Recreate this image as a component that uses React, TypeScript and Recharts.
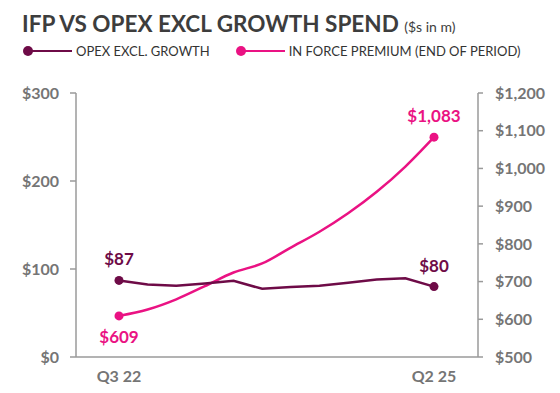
import { LabelList, Line, LineChart, XAxis, YAxis } from "recharts";

const quarters = [
  "Q3 22", "Q4 22", "Q1 23", "Q2 23", "Q3 23", "Q4 23",
  "Q1 24", "Q2 24", "Q3 24", "Q4 24", "Q1 25", "Q2 25",
];
const opexExclGrowth = [87, 82.5, 81, 83.5, 86.5, 77.5, 79.5, 81, 84.5, 88, 89.5, 80];
const inForcePremium = [609, 626, 653, 688, 724, 748, 790, 832, 881, 938, 1005, 1083];
const leftTicks = [0, 100, 200, 300];
const rightTicks = [500, 600, 700, 800, 900, 1000, 1100, 1200];

const OPEX = "#6e0b47";
const IFP = "#ea1283";
const AXIS = "#9a9a9a";
const TICK = "#757575";
const FONT = "Lato, 'Open Sans', sans-serif";

const data = quarters.map((q, i) => ({
  quarter: q,
  opex: opexExclGrowth[i],
  ifp: inForcePremium[i],
}));

const last = quarters.length - 1;
const money = (v: number) => `$${Math.round(v).toLocaleString("en-US")}`;

// only the first and last point get a dot
const endDot = (color: string) => (props: any) => {
  const { cx, cy, index } = props;
  if (index !== 0 && index !== last) return <g key={`d-${index}`} />;
  return <circle key={`d-${index}`} cx={cx} cy={cy} r={4.5} fill={color} />;
};

const endLabel = (color: string, below: (i: number) => boolean) => (props: any) => {
  const { x, y, value, index } = props;
  if (index !== 0 && index !== last) return null;
  const dy = below(index) ? 27 : -15;
  return (
    <text
      x={x}
      y={y + dy}
      textAnchor="middle"
      fill={color}
      fontFamily={FONT}
      fontWeight={700}
      fontSize={17}
    >
      {money(value)}
    </text>
  );
};

function LegendItem({ color, label }: { color: string; label: string }) {
  return (
    <span style={{ display: "inline-flex", alignItems: "center", gap: 4 }}>
      <svg width={50} height={12}>
        <line x1={6} y1={6} x2={50} y2={6} stroke={color} strokeWidth={2} />
        <circle cx={6} cy={6} r={5} fill={color} />
      </svg>
      {label}
    </span>
  );
}

export default function App() {
  return (
    <div
      style={{
        position: "absolute",
        left: 0,
        top: 0,
        width: 560,
        height: 393,
        background: "#fff",
        fontFamily: FONT,
      }}
    >
      <div
        style={{
          position: "absolute",
          left: 22,
          top: 10,
          color: "#3d3d3d",
          fontWeight: 700,
          fontSize: 22.5,
          whiteSpace: "nowrap",
        }}
      >
        IFP VS OPEX EXCL GROWTH SPEND{" "}
        <span style={{ fontWeight: 400, fontSize: 14 }}>($s in m)</span>
      </div>
      <div
        style={{
          position: "absolute",
          left: 22,
          top: 43,
          display: "flex",
          gap: 25,
          color: "#333",
          fontSize: 13,
          whiteSpace: "nowrap",
        }}
      >
        <LegendItem color={OPEX} label="OPEX EXCL. GROWTH" />
        <LegendItem color={IFP} label="IN FORCE PREMIUM (END OF PERIOD)" />
      </div>

      <LineChart
        width={560}
        height={393}
        data={data}
        margin={{ top: 93, right: 0, bottom: 0, left: 0 }}
        style={{ position: "absolute", left: 0, top: 0 }}
      >
        <XAxis
          dataKey="quarter"
          interval={10}
          padding={{ left: 43, right: 44 }}
          height={36}
          stroke={AXIS}
          strokeWidth={1.5}
          tickLine={false}
          tickMargin={8}
          tick={{ fill: TICK, fontSize: 16, fontWeight: 700, fontFamily: FONT }}
        />
        <YAxis
          yAxisId="left"
          domain={[0, 300]}
          ticks={leftTicks}
          width={76}
          stroke={AXIS}
          strokeWidth={1.5}
          tickSize={6}
          tickMargin={11}
          tickFormatter={money}
          tick={{ fill: TICK, fontSize: 16, fontWeight: 700, fontFamily: FONT }}
        />
        <YAxis
          yAxisId="right"
          orientation="right"
          domain={[500, 1200]}
          ticks={rightTicks}
          width={82}
          stroke={AXIS}
          strokeWidth={1.5}
          tickSize={5}
          tickMargin={12}
          tickFormatter={money}
          tick={{ fill: TICK, fontSize: 16, fontWeight: 700, fontFamily: FONT }}
        />
        <Line
          yAxisId="right"
          dataKey="ifp"
          type="monotone"
          stroke={IFP}
          strokeWidth={2.5}
          dot={endDot(IFP)}
          activeDot={false}
          isAnimationActive={false}
        >
          <LabelList dataKey="ifp" content={endLabel(IFP, (i) => i === 0)} />
        </Line>
        <Line
          yAxisId="left"
          dataKey="opex"
          type="linear"
          stroke={OPEX}
          strokeWidth={2.5}
          dot={endDot(OPEX)}
          activeDot={false}
          isAnimationActive={false}
        >
          <LabelList dataKey="opex" content={endLabel(OPEX, () => false)} />
        </Line>
      </LineChart>
    </div>
  );
}
